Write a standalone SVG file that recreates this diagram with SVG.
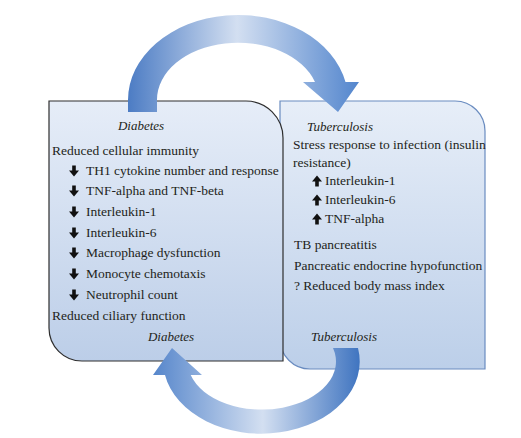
<svg xmlns="http://www.w3.org/2000/svg" xmlns:xlink="http://www.w3.org/1999/xlink" width="521" height="438" viewBox="0 0 521 438">
<style>
text{font-family:"Liberation Serif","DejaVu Serif","Times New Roman",serif;font-size:13.5px;fill:#231f20}
.it{font-style:italic;font-size:13px}
.mid{text-anchor:middle}
.ic{fill:#111}
</style>
<defs>
<linearGradient id="boxL" x1="0" y1="0" x2="0" y2="1">
<stop offset="0" stop-color="#e6edf8"/>
<stop offset="1" stop-color="#bccee8"/>
</linearGradient>
<linearGradient id="boxR" x1="0" y1="0" x2="0" y2="1">
<stop offset="0" stop-color="#e7eef8"/>
<stop offset="1" stop-color="#bccfe9"/>
</linearGradient>
<linearGradient id="arcTop" gradientUnits="userSpaceOnUse" x1="128" y1="0" x2="360" y2="0">
<stop offset="0" stop-color="#4c7cc4"/>
<stop offset="0.47" stop-color="#d3dff1"/>
<stop offset="1" stop-color="#5285cd"/>
</linearGradient>
<linearGradient id="arcBot" gradientUnits="userSpaceOnUse" x1="153" y1="0" x2="360" y2="0">
<stop offset="0" stop-color="#5686cb"/>
<stop offset="0.53" stop-color="#d3dff1"/>
<stop offset="1" stop-color="#3f74c0"/>
</linearGradient>
<path id="dn" d="M-1.8,-5.5 H1.8 V-0.5 H5 L0,5.5 L-5,-0.5 H-1.8 Z"/>
<path id="up" d="M-1.8,5.5 H1.8 V0.5 H5 L0,-5.5 L-5,0.5 H-1.8 Z"/>
</defs>
<rect width="521" height="438" fill="#ffffff"/>

<g id="node-tuberculosis" font-family="Liberation Serif, serif">
<path d="M280,101 H455 A30,30 0 0 1 485,131 V369 H310 A30,30 0 0 1 280,339 Z" fill="url(#boxR)" stroke="#6a8cc0" stroke-width="1.2"/>
<text class="it" x="307" y="131">Tuberculosis</text>
<text x="293" y="149">Stress response to infection (insulin</text>
<text x="293" y="167">resistance)</text>
<use href="#up" class="ic" x="317" y="181"/>
<text x="325" y="185">Interleukin-1</text>
<use href="#up" class="ic" x="317" y="200"/>
<text x="325" y="204">Interleukin-6</text>
<use href="#up" class="ic" x="317" y="219"/>
<text x="325" y="223">TNF-alpha</text>
<text x="294" y="249">TB pancreatitis</text>
<text x="294" y="270">Pancreatic endocrine hypofunction</text>
<text x="294" y="290">? Reduced body mass index</text>
<text class="it mid" x="344" y="341">Tuberculosis</text>
</g>

<g id="node-diabetes" font-family="Liberation Serif, serif">
<path d="M49,101 H246 A37,37 0 0 1 283,138 V361 H82 A33,33 0 0 1 49,328 Z" fill="url(#boxL)" stroke="#2e2e2e" stroke-width="1.2"/>
<text class="it mid" x="141" y="130">Diabetes</text>
<text x="52" y="155">Reduced cellular immunity</text>
<use href="#dn" class="ic" x="74" y="171"/>
<text x="86" y="175">TH1 cytokine number and response</text>
<use href="#dn" class="ic" x="74" y="191"/>
<text x="86" y="195">TNF-alpha and TNF-beta</text>
<use href="#dn" class="ic" x="74" y="212"/>
<text x="86" y="216">Interleukin-1</text>
<use href="#dn" class="ic" x="74" y="233"/>
<text x="86" y="237">Interleukin-6</text>
<use href="#dn" class="ic" x="74" y="253"/>
<text x="86" y="257">Macrophage dysfunction</text>
<use href="#dn" class="ic" x="74" y="274"/>
<text x="86" y="278">Monocyte chemotaxis</text>
<use href="#dn" class="ic" x="74" y="295"/>
<text x="86" y="299">Neutrophil count</text>
<text x="52" y="320">Reduced ciliary function</text>
<text class="it mid" x="171" y="341">Diabetes</text>
</g>

<g id="connectors">
<path id="arrow-diabetes-to-tb" d="M128,112 L128,100 A110,85 0 0 1 345.5,82 L359,82 L338,112 L303,82 L315,82 A81,57 0 0 0 157,100 L157,112 Z" fill="url(#arcTop)"/>
<path id="arrow-tb-to-diabetes" d="M333,348 L358,348 A98,72 0 0 1 165,375 L153,375 L172,348 L202,375 L190.7,375 A74,48 0 0 0 333,348 Z" fill="url(#arcBot)"/>
</g>
</svg>
